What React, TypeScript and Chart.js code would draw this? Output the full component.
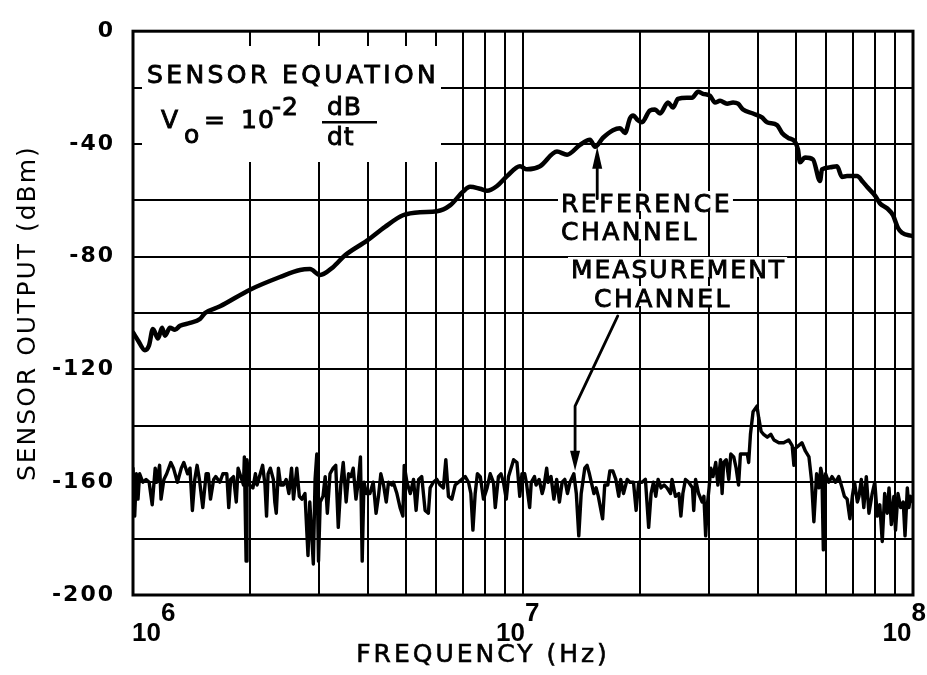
import React, { useEffect, useRef } from 'react';
import { Chart, registerables } from 'chart.js';

Chart.register(...registerables);

// ---------- data (frequency in MHz, level in dBm) ----------
const refMHz = [
  1.00, 1.03, 1.073, 1.099, 1.125, 1.159, 1.187, 1.208, 1.244, 1.281,
  1.32, 1.40, 1.485, 1.53, 1.672, 1.995, 2.382, 2.681, 2.843, 3.017,
  3.258, 3.497, 3.981, 4.428, 4.923, 5.443, 6.018, 6.499, 7.019, 7.315,
  7.757, 8.087, 8.577, 9.101, 9.824, 10.24, 11.06, 12.22, 12.97, 14.00,
  14.85, 15.30, 16.04, 17.01, 17.73, 18.26, 18.81, 19.15, 19.72, 20.19,
  21.16, 21.80, 22.46, 23.54, 24.24, 24.96, 26.33, 27.13, 28.11, 28.94,
  30.17, 31.07, 32.00, 33.36, 34.56, 35.59, 36.66, 38.88, 41.00, 42.23,
  44.81, 46.15, 47.81, 49.82, 50.71, 51.31, 52.85, 55.41, 57.75, 58.44,
  61.26, 63.85, 65.76, 67.73, 71.85, 74.44, 76.23, 79.91, 82.30, 85.77,
  88.86, 91.53, 93.71, 99.40,
];
const refDb = [
  -106.9, -109.7, -113.2, -111.5, -105.6, -109.0, -105.2, -108.0, -105.2, -105.9,
  -104.5, -103.5, -102.1, -100.0, -97.6, -91.7, -87.2, -84.7, -84.4, -86.5,
  -83.7, -79.5, -74.3, -69.4, -65.3, -64.2, -63.9, -61.8, -56.9, -55.2,
  -55.9, -56.6, -54.9, -51.4, -47.9, -49.0, -47.9, -42.7, -43.8, -40.3,
  -38.5, -41.0, -37.8, -35.1, -34.4, -36.1, -30.9, -29.9, -31.6, -32.3,
  -28.1, -27.8, -29.2, -25.3, -27.1, -24.0, -23.6, -23.6, -21.5, -22.2,
  -22.9, -25.3, -24.7, -25.7, -25.3, -25.7, -27.8, -29.2, -30.6, -32.3,
  -33.3, -36.1, -37.8, -39.2, -42.0, -46.5, -44.8, -45.5, -53.1, -49.0,
  -48.3, -47.9, -51.7, -51.4, -51.4, -53.5, -55.2, -58.3, -61.1, -62.8,
  -65.3, -69.8, -71.5, -72.6,
];

const measMHz = [
  1.00, 1.01, 1.02, 1.03, 1.04, 1.06, 1.08, 1.10, 1.12, 1.14,
  1.15, 1.17, 1.18, 1.20, 1.22, 1.25, 1.27, 1.30, 1.33, 1.35,
  1.38, 1.40, 1.42, 1.44, 1.46, 1.48, 1.51, 1.54, 1.56, 1.58,
  1.61, 1.63, 1.67, 1.70, 1.74, 1.76, 1.78, 1.81, 1.84, 1.86,
  1.90, 1.92, 1.93, 1.95, 1.96, 1.99, 2.03, 2.06, 2.08, 2.12,
  2.15, 2.18, 2.20, 2.22, 2.25, 2.29, 2.31, 2.33, 2.36, 2.39,
  2.43, 2.47, 2.51, 2.55, 2.58, 2.63, 2.67, 2.71, 2.76, 2.81,
  2.84, 2.90, 2.93, 2.96, 2.99, 3.02, 3.07, 3.11, 3.15, 3.20,
  3.26, 3.31, 3.36, 3.41, 3.46, 3.52, 3.57, 3.62, 3.67, 3.73,
  3.78, 3.83, 3.87, 3.91, 3.97, 4.05, 4.13, 4.20, 4.26, 4.32,
  4.39, 4.46, 4.52, 4.61, 4.65, 4.75, 4.84,
  4.92, 4.96, 5.04, 5.14, 5.24, 5.32, 5.40, 5.50, 5.61, 5.72,
  5.78, 5.89, 6.01, 6.13, 6.25, 6.34, 6.44, 6.57, 6.70, 6.83,
  6.97, 7.11, 7.25, 7.35, 7.44, 7.54, 7.64, 7.77, 7.92, 8.09,
  8.24, 8.40, 8.49, 8.65, 8.78, 8.91, 9.06, 9.18, 9.37, 9.46,
  9.65, 9.81, 9.94, 10.1, 10.2, 10.4, 10.5, 10.7, 10.8, 11.0,
  11.2, 11.3, 11.5, 11.6, 11.8, 12.0, 12.2, 12.4, 12.6, 12.8,
  13.0, 13.2, 13.5, 13.7, 13.9, 14.1, 14.4, 14.6, 14.8, 15.2,
  15.4, 15.6, 16.0, 16.2, 16.5, 16.7, 17.0, 17.3, 17.6, 17.8,
  18.1, 18.5, 18.8, 19.2, 19.5, 19.8, 20.2, 20.6, 21.0, 21.3,
  21.6, 21.9, 22.2, 22.6, 23.0, 23.4, 23.9, 24.1, 24.6, 25.1,
  25.4, 25.7, 26.1, 26.6, 27.2, 27.4, 27.7, 28.2, 28.8, 29.1,
  29.4, 29.7, 30.0, 30.3, 30.7, 31.2, 31.6, 32.1, 32.4, 32.7,
  33.2, 33.7, 34.1, 34.7, 35.2, 35.7, 36.1, 36.8, 37.6, 37.9,
  38.3, 38.9, 39.8, 40.2, 40.8, 41.4, 42.3, 43.2, 44.0, 45.3,
  46.6, 48.0, 49.0, 49.5, 49.9, 50.9, 51.9, 53.0, 54.1, 54.9,
  55.7, 56.6, 57.4, 58.0, 58.4, 58.9, 59.2, 59.7, 60.8, 62.0,
  63.3, 64.5, 65.8, 66.7, 67.8, 68.9, 69.9, 70.8, 72.0, 72.7,
  73.7, 74.8, 75.9, 77.1, 78.6, 79.8, 81.0, 82.2, 83.4, 84.6,
  85.9, 86.8, 88.0, 89.3, 90.2, 91.5, 93.0, 94.4, 95.4, 96.7,
  97.6, 98.6, 100,
];
const measDb = [
  -155, -172, -157, -166, -157, -160, -159, -160, -168, -155,
  -160, -154, -166, -159, -157, -153, -155, -160, -155, -153,
  -157, -155, -170, -159, -154, -159, -169, -157, -157, -166,
  -159, -158, -160, -157, -157, -169, -159, -158, -167, -155,
  -159, -161, -151, -188, -152, -161, -162, -157, -161, -157,
  -154, -161, -172, -157, -155, -159, -167, -171, -155, -161,
  -161, -159, -164, -155, -166, -155, -165, -166, -164, -186,
  -167, -189, -159, -150, -188, -167, -165, -158, -171, -157,
  -155, -154, -176, -161, -153, -167, -157, -158, -155, -166,
  -160, -151, -188, -160, -164, -164, -160, -171, -165, -157,
  -161, -167, -160, -161, -160, -164, -169,
  -172, -154, -160, -164, -159, -170, -159, -158, -170, -171,
  -162, -160, -159, -161, -162, -152, -165, -166, -161, -160,
  -159, -158, -160, -164, -177, -164, -157, -158, -166, -162,
  -157, -160, -169, -158, -157, -160, -166, -158, -154, -152,
  -153, -165, -157, -157, -160, -169, -160, -158, -161, -159,
  -164, -162, -155, -160, -158, -166, -159, -167, -160, -159,
  -164, -160, -157, -164, -179, -164, -155, -154, -157, -164,
  -162, -165, -173, -161, -161, -156, -156, -159, -165, -159,
  -164, -159, -160, -160, -170, -160, -160, -159, -176, -164,
  -160, -165, -159, -162, -161, -162, -164, -159, -165, -164,
  -172, -164, -159, -160, -162, -170, -159, -164, -167, -165,
  -179, -168, -162, -155, -158, -153, -161, -152, -164, -153,
  -152, -159, -150, -151, -155, -161, -150, -150, -150, -153,
  -143, -135, -133, -137, -142, -143, -144, -143, -145, -146,
  -146, -145, -147, -154, -148, -147, -146, -149, -151, -159,
  -174, -157, -162, -155, -157, -184, -160, -157, -160, -158,
  -160, -158, -162, -165, -166, -173, -165, -160, -167, -165,
  -159, -169, -158, -171, -164, -160, -172, -168, -181, -164,
  -171, -162, -175, -165, -177, -164, -169, -167, -179, -162,
  -169, -165, -167,
];

// axis ticks
const xGridMHz = [1, 2, 3, 4, 5, 6, 7, 8, 9, 10, 20, 30, 40, 50, 60, 70, 80, 90, 100];
const xLabelExponents = [6, 7, 8];
const yMin = -200;
const yMax = 0;
const yGridStep = 20;
const yLabelStep = 40;

// texts
const xTitle = 'FREQUENCY (Hz)';
const yTitle = 'SENSOR OUTPUT (dBm)';
const eqTitle = 'SENSOR EQUATION';
const refLabel = ['REFERENCE', 'CHANNEL'];
const measLabel = ['MEASUREMENT', 'CHANNEL'];

// arrow anchors (Hz, dBm)
const refArrow = [[1.55e7, -59.4], [1.55e7, -41.0]];
const measArrow = [[1.75e7, -101], [1.36e7, -133], [1.36e7, -155.9]];

const SANS = '"DejaVu Sans", "Noto Sans", sans-serif';
const NARROW = '"Liberation Sans", Arial, sans-serif';

function drawArrow(ctx: any, pts: number[][], headLen: number, headW: number) {
  const n = pts.length;
  const [tx, ty] = pts[n - 1];
  const [px, py] = pts[n - 2];
  const ang = Math.atan2(ty - py, tx - px);
  const bx = tx - headLen * Math.cos(ang);
  const by = ty - headLen * Math.sin(ang);
  ctx.beginPath();
  ctx.moveTo(pts[0][0], pts[0][1]);
  for (let i = 1; i < n - 1; i++) ctx.lineTo(pts[i][0], pts[i][1]);
  ctx.lineTo(bx, by);
  ctx.stroke();
  ctx.beginPath();
  ctx.moveTo(tx, ty);
  ctx.lineTo(bx + (headW / 2) * Math.sin(ang), by - (headW / 2) * Math.cos(ang));
  ctx.lineTo(bx - (headW / 2) * Math.sin(ang), by + (headW / 2) * Math.cos(ang));
  ctx.closePath();
  ctx.fill();
}

// heavy "lettering" text: fill plus a thin stroke
function ink(ctx: any, text: string, x: number, y: number) {
  ctx.fillText(text, x, y);
  ctx.strokeText(text, x, y);
}

function textWithBg(ctx: any, text: string, x: number, baseline: number, cap: number) {
  const w = ctx.measureText(text).width;
  ctx.fillStyle = '#fff';
  ctx.fillRect(x - 3, baseline - cap - 3, w + 4, cap + 2);
  ctx.fillStyle = '#000';
  ink(ctx, text, x, baseline);
}

const paperPlugin = {
  id: 'paperAnnotations',
  beforeDraw(chart: any) {
    chart.ctx.letterSpacing = '2px';
  },
  beforeDatasetsDraw(chart: any) {
    const ctx = chart.ctx;
    ctx.save();
    // white block behind the sensor equation
    ctx.fillStyle = '#fff';
    ctx.fillRect(142, 46, 299, 116);
    ctx.fillStyle = '#000';
    ctx.strokeStyle = '#000';
    ctx.lineWidth = 0.9;
    ctx.textAlign = 'left';
    ctx.textBaseline = 'alphabetic';
    ctx.font = `25px ${SANS}`;
    ctx.letterSpacing = '3.4px';
    ink(ctx, eqTitle, 147, 83);
    ctx.letterSpacing = '0px';
    ink(ctx, 'V', 161, 128);
    ink(ctx, 'o', 184, 143);
    ink(ctx, '=', 204, 128);
    ctx.letterSpacing = '1px';
    ink(ctx, '10', 241, 128);
    ink(ctx, '-2', 272, 115);
    ink(ctx, 'dB', 327, 115);
    ink(ctx, 'dt', 327, 145);
    ctx.fillRect(322, 121, 55, 2.5);

    ctx.letterSpacing = '2.5px';
    textWithBg(ctx, refLabel[0], 561, 212, 18);
    textWithBg(ctx, refLabel[1], 561, 240, 18);
    ctx.letterSpacing = '2px';
    textWithBg(ctx, measLabel[0], 571, 278, 18);
    ctx.letterSpacing = '2.5px';
    textWithBg(ctx, measLabel[1], 594, 307, 18);
    ctx.restore();
  },
  afterDatasetsDraw(chart: any) {
    const ctx = chart.ctx;
    const xs = chart.scales.x;
    const ys = chart.scales.y;
    const toPx = (p: number[]) => [xs.getPixelForValue(p[0]), ys.getPixelForValue(p[1])];
    ctx.save();
    ctx.strokeStyle = '#000';
    ctx.fillStyle = '#000';
    ctx.lineWidth = 2.8;
    ctx.lineCap = 'round';
    ctx.lineJoin = 'round';
    drawArrow(ctx, refArrow.map(toPx), 22, 10);
    drawArrow(ctx, measArrow.map(toPx), 20, 10);
    ctx.restore();
  },
  afterDraw(chart: any) {
    const ctx = chart.ctx;
    const ca = chart.chartArea;
    const xs = chart.scales.x;
    ctx.save();
    // frame
    ctx.strokeStyle = '#000';
    ctx.lineWidth = 3;
    ctx.strokeRect(ca.left, ca.top, ca.right - ca.left, ca.bottom - ca.top);
    // decade labels 10^n
    ctx.fillStyle = '#000';
    ctx.letterSpacing = '0px';
    ctx.font = `bold 26px ${NARROW}`;
    ctx.textBaseline = 'alphabetic';
    ctx.textAlign = 'left';
    const wBase = ctx.measureText('10').width;
    xLabelExponents.forEach((e) => {
      const px = xs.getPixelForValue(Math.pow(10, e));
      const wExp = ctx.measureText(String(e)).width;
      let start = Math.max(px + 2 - wBase, ca.left - 1);
      start = Math.min(start, chart.width - 1 - wBase - wExp);
      ctx.fillText('10', start, 641);
      ctx.fillText(String(e), start + wBase, 621);
    });
    // x axis title
    ctx.font = `25px ${SANS}`;
    ctx.letterSpacing = '3px';
    ctx.textAlign = 'center';
    ctx.lineWidth = 0.6;
    ink(ctx, xTitle, 483, 662);
    ctx.restore();
    ctx.letterSpacing = '0px';
  },
};

export default function App() {
  const canvasRef = useRef<HTMLCanvasElement | null>(null);

  useEffect(() => {
    if (!canvasRef.current) return;
    const refData = refMHz.map((m, i) => ({ x: m * 1e6, y: refDb[i] }));
    const measData = measMHz.map((m, i) => ({ x: m * 1e6, y: measDb[i] }));
    const gridStyle = { color: '#000', lineWidth: 2, drawTicks: false };

    const chart = new Chart(canvasRef.current, {
      type: 'line',
      data: {
        datasets: [
          {
            label: 'REFERENCE CHANNEL',
            data: refData,
            borderColor: '#000',
            borderWidth: 4.5,
            pointRadius: 0,
            cubicInterpolationMode: 'monotone',
            borderJoinStyle: 'round',
            borderCapStyle: 'round',
          },
          {
            label: 'MEASUREMENT CHANNEL',
            data: measData,
            borderColor: '#000',
            borderWidth: 3.4,
            pointRadius: 0,
            tension: 0,
            borderJoinStyle: 'round',
            borderCapStyle: 'round',
          },
        ],
      },
      options: {
        responsive: false,
        animation: false,
        layout: { padding: { left: 0, right: 14, top: 19, bottom: 0 } },
        plugins: { legend: { display: false }, tooltip: { enabled: false } },
        scales: {
          x: {
            type: 'logarithmic',
            min: 1e6,
            max: 1e8,
            afterBuildTicks: (s: any) => {
              s.ticks = xGridMHz.map((m) => ({ value: m * 1e6 }));
            },
            afterFit: (s: any) => {
              s.height = 80;
            },
            ticks: { display: false },
            grid: gridStyle,
            border: { display: false },
          },
          y: {
            type: 'linear',
            min: yMin,
            max: yMax,
            afterFit: (s: any) => {
              s.width = 133;
            },
            ticks: {
              stepSize: yGridStep,
              autoSkip: false,
              padding: 18,
              color: '#000',
              font: { family: SANS, size: 22, weight: 'bold' },
              callback: (v: any) => (Number(v) % yLabelStep === 0 ? String(v) : ''),
            },
            grid: gridStyle,
            border: { display: false },
            title: {
              display: true,
              text: yTitle,
              color: '#000',
              font: { family: SANS, size: 25 },
              padding: { top: 13, bottom: 0 },
            },
          },
        },
      } as any,
      plugins: [paperPlugin as any],
    });
    return () => chart.destroy();
  }, []);

  return (
    <div style={{ position: 'absolute', left: 0, top: 0, width: 927, height: 675, background: '#fff' }}>
      <canvas ref={canvasRef} width={927} height={675} style={{ display: 'block', width: 927, height: 675 }} />
    </div>
  );
}
